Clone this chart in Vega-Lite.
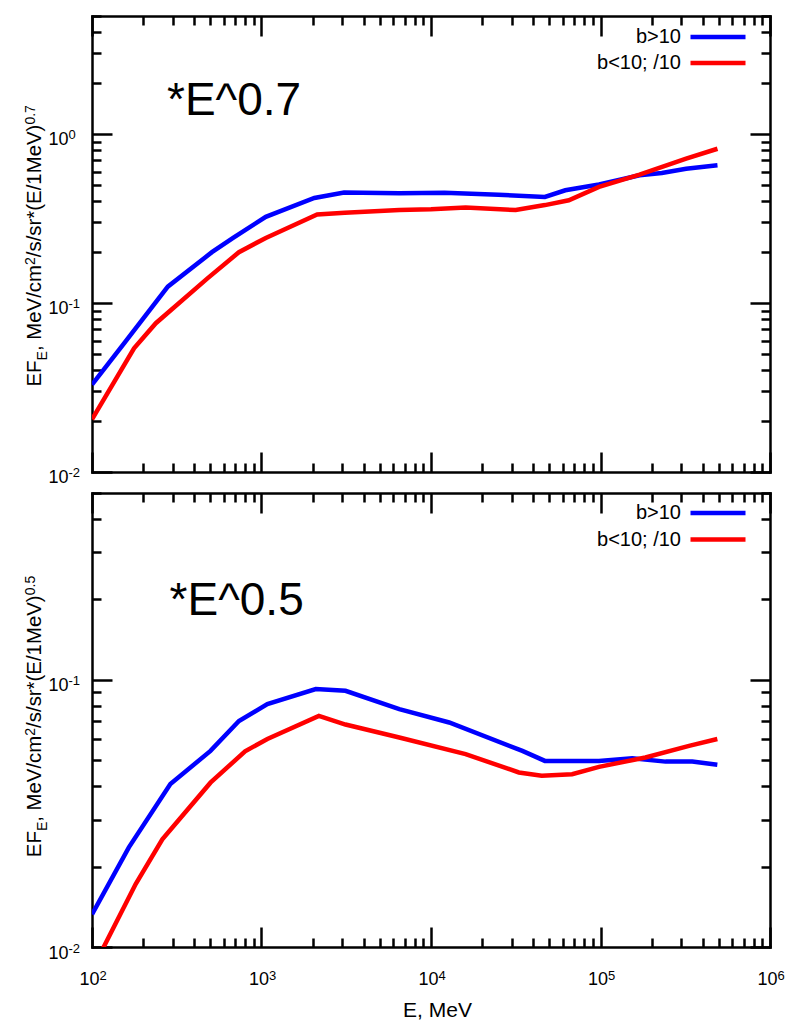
{
  "$schema": "https://vega.github.io/schema/vega-lite/v6.json",
  "autosize": {"type": "pad"},
  "padding": {"left": 22, "top": 12, "right": 20, "bottom": 5},
  "background": "white",
  "config": {
    "font": "Liberation Sans",
    "view": {"stroke": null},
    "axis": {
      "domainColor": "black", "domainWidth": 2.5, "domainCap": "square",
      "tickColor": "black", "tickWidth": 2.5, "grid": false,
      "labelColor": "black", "titleColor": "black",
      "labelFont": "Liberation Sans", "titleFont": "Liberation Sans",
      "titleFontWeight": "normal", "labelFontSize": 18, "titleFontSize": 20.4,
      "labelFlush": false, "labelOverlap": false
    },
    "legend": {"labelFont": "Liberation Sans", "labelColor": "black"}
  },
  "datasets": {
    "top": [
      {"E": 100, "v": 0.0329, "series": "b>10"},
      {"E": 155, "v": 0.058, "series": "b>10"},
      {"E": 280, "v": 0.125, "series": "b>10"},
      {"E": 510, "v": 0.2, "series": "b>10"},
      {"E": 680, "v": 0.243, "series": "b>10"},
      {"E": 1060, "v": 0.324, "series": "b>10"},
      {"E": 2050, "v": 0.419, "series": "b>10"},
      {"E": 3070, "v": 0.451, "series": "b>10"},
      {"E": 6500, "v": 0.446, "series": "b>10"},
      {"E": 12000, "v": 0.449, "series": "b>10"},
      {"E": 25000, "v": 0.437, "series": "b>10"},
      {"E": 47000, "v": 0.425, "series": "b>10"},
      {"E": 62000, "v": 0.465, "series": "b>10"},
      {"E": 98000, "v": 0.503, "series": "b>10"},
      {"E": 170000, "v": 0.571, "series": "b>10"},
      {"E": 230000, "v": 0.589, "series": "b>10"},
      {"E": 320000, "v": 0.624, "series": "b>10"},
      {"E": 490000, "v": 0.654, "series": "b>10"},
      {"E": 100, "v": 0.0205, "series": "b<10; /10"},
      {"E": 177, "v": 0.054, "series": "b<10; /10"},
      {"E": 238, "v": 0.076, "series": "b<10; /10"},
      {"E": 480, "v": 0.14, "series": "b<10; /10"},
      {"E": 736, "v": 0.2, "series": "b<10; /10"},
      {"E": 1060, "v": 0.243, "series": "b<10; /10"},
      {"E": 2130, "v": 0.334, "series": "b<10; /10"},
      {"E": 3100, "v": 0.342, "series": "b<10; /10"},
      {"E": 6500, "v": 0.355, "series": "b<10; /10"},
      {"E": 10000, "v": 0.359, "series": "b<10; /10"},
      {"E": 16000, "v": 0.368, "series": "b<10; /10"},
      {"E": 31600, "v": 0.355, "series": "b<10; /10"},
      {"E": 47000, "v": 0.38, "series": "b<10; /10"},
      {"E": 65000, "v": 0.406, "series": "b<10; /10"},
      {"E": 98000, "v": 0.487, "series": "b<10; /10"},
      {"E": 170000, "v": 0.575, "series": "b<10; /10"},
      {"E": 320000, "v": 0.715, "series": "b<10; /10"},
      {"E": 490000, "v": 0.819, "series": "b<10; /10"}
    ],
    "bottom": [
      {"E": 100, "v": 0.01325, "series": "b>10"},
      {"E": 165, "v": 0.0236, "series": "b>10"},
      {"E": 290, "v": 0.0407, "series": "b>10"},
      {"E": 500, "v": 0.0542, "series": "b>10"},
      {"E": 736, "v": 0.0701, "series": "b>10"},
      {"E": 1083, "v": 0.0811, "series": "b>10"},
      {"E": 2090, "v": 0.0923, "series": "b>10"},
      {"E": 3130, "v": 0.0909, "series": "b>10"},
      {"E": 6500, "v": 0.0776, "series": "b>10"},
      {"E": 12800, "v": 0.0692, "series": "b>10"},
      {"E": 34600, "v": 0.0542, "series": "b>10"},
      {"E": 47000, "v": 0.0497, "series": "b>10"},
      {"E": 98000, "v": 0.0497, "series": "b>10"},
      {"E": 154000, "v": 0.0509, "series": "b>10"},
      {"E": 242000, "v": 0.0494, "series": "b>10"},
      {"E": 348000, "v": 0.0494, "series": "b>10"},
      {"E": 489000, "v": 0.0481, "series": "b>10"},
      {"E": 100, "v": 0.0082, "series": "b<10; /10"},
      {"E": 181, "v": 0.0172, "series": "b<10; /10"},
      {"E": 260, "v": 0.0253, "series": "b<10; /10"},
      {"E": 500, "v": 0.0412, "series": "b<10; /10"},
      {"E": 800, "v": 0.054, "series": "b<10; /10"},
      {"E": 1083, "v": 0.06, "series": "b<10; /10"},
      {"E": 2180, "v": 0.0733, "series": "b<10; /10"},
      {"E": 3130, "v": 0.068, "series": "b<10; /10"},
      {"E": 6500, "v": 0.0608, "series": "b<10; /10"},
      {"E": 16000, "v": 0.0527, "series": "b<10; /10"},
      {"E": 33000, "v": 0.045, "series": "b<10; /10"},
      {"E": 45000, "v": 0.0437, "series": "b<10; /10"},
      {"E": 68000, "v": 0.0443, "series": "b<10; /10"},
      {"E": 98000, "v": 0.0472, "series": "b<10; /10"},
      {"E": 184000, "v": 0.0512, "series": "b<10; /10"},
      {"E": 333000, "v": 0.0566, "series": "b<10; /10"},
      {"E": 489000, "v": 0.06, "series": "b<10; /10"}
    ],
    "noteTop": [{"E": 277, "v": 1.29, "label": "*E^0.7"}],
    "noteBottom": [{"E": 287, "v": 0.174, "label": "*E^0.5"}]
  },
  "spacing": 21,
  "bounds": "flush",
  "resolve": {"scale": {"color": "independent"}, "legend": {"color": "independent"}},
  "vconcat": [
    {
      "width": 678, "height": 456,
      "resolve": {"axis": {"x": "independent", "y": "independent"}},
      "layer": [
        {
          "data": {"name": "top"},
          "mark": {"type": "line", "strokeWidth": 4.5, "clip": true},
          "encoding": {
            "x": {"field": "E", "type": "quantitative",
              "scale": {"type": "log", "domain": [100, 1000000], "nice": false},
              "axis": {"orient": "bottom", "title": null, "labels": false,
                "values": [100,200,300,400,500,600,700,800,900,1000,2000,3000,4000,5000,6000,7000,8000,9000,10000,20000,30000,40000,50000,60000,70000,80000,90000,100000,200000,300000,400000,500000,600000,700000,800000,900000,1000000],
                "tickSize": {"condition": {"test": "datum.value==100||datum.value==1000||datum.value==10000||datum.value==100000||datum.value==1000000", "value": -20}, "value": -9}}},
            "y": {"field": "v", "type": "quantitative",
              "scale": {"type": "log", "domain": [0.01, 5], "nice": false},
              "axis": {"orient": "left", "title": "EF",
                "titleX": -51.3, "titleY": 370, "titleBaseline": "alphabetic", "titleAlign": "left", "titleAngle": 270,
                "values": [0.01,0.02,0.03,0.04,0.05,0.06,0.07,0.08,0.09,0.1,0.2,0.3,0.4,0.5,0.6,0.7,0.8,0.9,1,2,3,4,5],
                "labelExpr": "datum.value==0.01||datum.value==0.1||datum.value==1?'10':''",
                "labelPadding": 44, "labelOffset": 5,
                "tickSize": {"condition": {"test": "datum.value==0.01||datum.value==0.1||datum.value==1", "value": -20}, "value": -9}}},
            "color": {"field": "series", "type": "nominal",
              "scale": {"domain": ["b>10", "b<10; /10"], "range": ["#0000ff", "#ff0000"]},
              "legend": {"orient": "none", "legendX": 616, "legendY": 11, "title": null,
                "symbolType": "M-5,0H5", "symbolSize": 121, "symbolStrokeWidth": 4.5,
                "labelFontSize": 20, "labelAlign": "right", "labelOffset": -47,
                "rowPadding": 6, "padding": 0, "labelLimit": 0}}
          }
        },
        {
          "data": {"name": "top"},
          "mark": {"type": "line", "strokeOpacity": 0},
          "encoding": {
            "detail": {"field": "series"},
            "x": {"field": "E", "type": "quantitative",
              "scale": {"type": "log", "domain": [100, 1000000], "nice": false},
              "axis": {"orient": "top", "title": null, "labels": false,
                "values": [100,200,300,400,500,600,700,800,900,1000,2000,3000,4000,5000,6000,7000,8000,9000,10000,20000,30000,40000,50000,60000,70000,80000,90000,100000,200000,300000,400000,500000,600000,700000,800000,900000,1000000],
                "tickSize": {"condition": {"test": "datum.value==100||datum.value==1000||datum.value==10000||datum.value==100000||datum.value==1000000", "value": -20}, "value": -9}}},
            "y": {"field": "v", "type": "quantitative",
              "scale": {"type": "log", "domain": [0.01, 5], "nice": false},
              "axis": {"orient": "right", "title": null, "labels": false,
                "values": [0.01,0.02,0.03,0.04,0.05,0.06,0.07,0.08,0.09,0.1,0.2,0.3,0.4,0.5,0.6,0.7,0.8,0.9,1,2,3,4,5],
                "tickSize": {"condition": {"test": "datum.value==0.01||datum.value==0.1||datum.value==1", "value": -20}, "value": -9}}}
          }
        },
        {
          "data": {"name": "top"},
          "mark": {"type": "line", "strokeOpacity": 0},
          "encoding": {
            "detail": {"field": "series"},
            "x": {"field": "E", "type": "quantitative", "scale": {"type": "log", "domain": [100, 1000000], "nice": false}, "axis": null},
            "y": {"field": "v", "type": "quantitative",
              "scale": {"type": "log", "domain": [0.01, 5], "nice": false},
              "axis": {"orient": "left", "ticks": false, "domain": false,
                "values": [0.01, 0.1, 1],
                "labelExpr": "datum.value==0.01?'-2':datum.value==0.1?'-1':'0'",
                "labelFontSize": 13, "labelAlign": "left", "labelBaseline": "middle", "labelPadding": 24, "labelOffset": 0,
                "title": "E", "titleFontSize": 14, "titleX": -46, "titleY": 343.9, "titleBaseline": "alphabetic", "titleAlign": "left", "titleAngle": 270}}
          }
        },
        {
          "data": {"name": "top"},
          "mark": {"type": "line", "strokeOpacity": 0},
          "encoding": {
            "detail": {"field": "series"},
            "x": {"field": "E", "type": "quantitative", "scale": {"type": "log", "domain": [100, 1000000], "nice": false}, "axis": null},
            "y": {"field": "v", "type": "quantitative",
              "scale": {"type": "log", "domain": [0.01, 5], "nice": false},
              "axis": {"orient": "left", "ticks": false, "domain": false, "labels": false,
                "title": ", MeV/cm", "titleX": -51.3, "titleY": 334.6, "titleBaseline": "alphabetic", "titleAlign": "left", "titleAngle": 270}}
          }
        },
        {
          "data": {"name": "top"},
          "mark": {"type": "line", "strokeOpacity": 0},
          "encoding": {
            "detail": {"field": "series"},
            "x": {"field": "E", "type": "quantitative", "scale": {"type": "log", "domain": [100, 1000000], "nice": false}, "axis": null},
            "y": {"field": "v", "type": "quantitative",
              "scale": {"type": "log", "domain": [0.01, 5], "nice": false},
              "axis": {"orient": "left", "ticks": false, "domain": false, "labels": false,
                "title": "2", "titleFontSize": 14, "titleX": -58, "titleY": 248.5, "titleBaseline": "alphabetic", "titleAlign": "left", "titleAngle": 270}}
          }
        },
        {
          "data": {"name": "top"},
          "mark": {"type": "line", "strokeOpacity": 0},
          "encoding": {
            "detail": {"field": "series"},
            "x": {"field": "E", "type": "quantitative", "scale": {"type": "log", "domain": [100, 1000000], "nice": false}, "axis": null},
            "y": {"field": "v", "type": "quantitative",
              "scale": {"type": "log", "domain": [0.01, 5], "nice": false},
              "axis": {"orient": "left", "ticks": false, "domain": false, "labels": false,
                "title": "/s/sr*(E/1MeV)", "titleX": -51.3, "titleY": 240.7, "titleBaseline": "alphabetic", "titleAlign": "left", "titleAngle": 270}}
          }
        },
        {
          "data": {"name": "top"},
          "mark": {"type": "line", "strokeOpacity": 0},
          "encoding": {
            "detail": {"field": "series"},
            "x": {"field": "E", "type": "quantitative", "scale": {"type": "log", "domain": [100, 1000000], "nice": false}, "axis": null},
            "y": {"field": "v", "type": "quantitative",
              "scale": {"type": "log", "domain": [0.01, 5], "nice": false},
              "axis": {"orient": "left", "ticks": false, "domain": false, "labels": false,
                "title": "0.7", "titleFontSize": 14, "titleX": -58, "titleY": 108.1, "titleBaseline": "alphabetic", "titleAlign": "left", "titleAngle": 270}}
          }
        },
        {
          "data": {"name": "noteTop"},
          "mark": {"type": "text", "align": "left", "baseline": "alphabetic", "fontSize": 46, "font": "Liberation Sans", "color": "black"},
          "encoding": {
            "x": {"field": "E", "type": "quantitative", "scale": {"type": "log", "domain": [100, 1000000], "nice": false}, "axis": null},
            "y": {"field": "v", "type": "quantitative", "scale": {"type": "log", "domain": [0.01, 5], "nice": false}, "axis": null},
            "text": {"field": "label"}
          }
        }
      ]
    },
    {
      "width": 678, "height": 454,
      "resolve": {"axis": {"x": "independent", "y": "independent"}},
      "layer": [
        {
          "data": {"name": "bottom"},
          "mark": {"type": "line", "strokeWidth": 4.5, "clip": true},
          "encoding": {
            "x": {"field": "E", "type": "quantitative",
              "scale": {"type": "log", "domain": [100, 1000000], "nice": false},
              "axis": {"orient": "bottom", "title": "E, MeV", "titleFontSize": 21,
                "titleX": 345, "titleY": 69, "titleBaseline": "alphabetic",
                "values": [100,200,300,400,500,600,700,800,900,1000,2000,3000,4000,5000,6000,7000,8000,9000,10000,20000,30000,40000,50000,60000,70000,80000,90000,100000,200000,300000,400000,500000,600000,700000,800000,900000,1000000],
                "labelExpr": "datum.value==100||datum.value==1000||datum.value==10000||datum.value==100000||datum.value==1000000?'10':''",
                "labelBaseline": "alphabetic", "labelAlign": "right", "labelPadding": 57, "labelOffset": 7,
                "tickSize": {"condition": {"test": "datum.value==100||datum.value==1000||datum.value==10000||datum.value==100000||datum.value==1000000", "value": -20}, "value": -9}}},
            "y": {"field": "v", "type": "quantitative",
              "scale": {"type": "log", "domain": [0.01, 0.5], "nice": false},
              "axis": {"orient": "left", "title": "EF",
                "titleX": -51.3, "titleY": 363.7, "titleBaseline": "alphabetic", "titleAlign": "left", "titleAngle": 270,
                "values": [0.01,0.02,0.03,0.04,0.05,0.06,0.07,0.08,0.09,0.1,0.2,0.3,0.4,0.5],
                "labelExpr": "datum.value==0.01||datum.value==0.1?'10':''",
                "labelPadding": 44, "labelOffset": 6,
                "tickSize": {"condition": {"test": "datum.value==0.01||datum.value==0.1", "value": -20}, "value": -9}}},
            "color": {"field": "series", "type": "nominal",
              "scale": {"domain": ["b>10", "b<10; /10"], "range": ["#0000ff", "#ff0000"]},
              "legend": {"orient": "none", "legendX": 616, "legendY": 10, "title": null,
                "symbolType": "M-5,0H5", "symbolSize": 121, "symbolStrokeWidth": 4.5,
                "labelFontSize": 20, "labelAlign": "right", "labelOffset": -47,
                "rowPadding": 6.5, "padding": 0, "labelLimit": 0}}
          }
        },
        {
          "data": {"name": "bottom"},
          "mark": {"type": "line", "strokeOpacity": 0},
          "encoding": {
            "detail": {"field": "series"},
            "x": {"field": "E", "type": "quantitative",
              "scale": {"type": "log", "domain": [100, 1000000], "nice": false},
              "axis": {"orient": "top", "title": null, "labels": false,
                "values": [100,200,300,400,500,600,700,800,900,1000,2000,3000,4000,5000,6000,7000,8000,9000,10000,20000,30000,40000,50000,60000,70000,80000,90000,100000,200000,300000,400000,500000,600000,700000,800000,900000,1000000],
                "tickSize": {"condition": {"test": "datum.value==100||datum.value==1000||datum.value==10000||datum.value==100000||datum.value==1000000", "value": -20}, "value": -9}}},
            "y": {"field": "v", "type": "quantitative",
              "scale": {"type": "log", "domain": [0.01, 0.5], "nice": false},
              "axis": {"orient": "right", "title": null, "labels": false,
                "values": [0.01,0.02,0.03,0.04,0.05,0.06,0.07,0.08,0.09,0.1,0.2,0.3,0.4,0.5],
                "tickSize": {"condition": {"test": "datum.value==0.01||datum.value==0.1", "value": -20}, "value": -9}}}
          }
        },
        {
          "data": {"name": "bottom"},
          "mark": {"type": "line", "strokeOpacity": 0},
          "encoding": {
            "detail": {"field": "series"},
            "x": {"field": "E", "type": "quantitative",
              "scale": {"type": "log", "domain": [100, 1000000], "nice": false},
              "axis": {"orient": "bottom", "ticks": false, "domain": false, "title": null,
                "values": [100, 1000, 10000, 100000, 1000000],
                "labelExpr": "datum.value==100?'2':datum.value==1000?'3':datum.value==10000?'4':datum.value==100000?'5':'6'",
                "labelFontSize": 13, "labelAlign": "left", "labelBaseline": "alphabetic", "labelPadding": 32, "labelOffset": 7}},
            "y": {"field": "v", "type": "quantitative",
              "scale": {"type": "log", "domain": [0.01, 0.5], "nice": false},
              "axis": {"orient": "left", "ticks": false, "domain": false,
                "values": [0.01, 0.1],
                "labelExpr": "datum.value==0.01?'-2':'-1'",
                "labelFontSize": 13, "labelAlign": "left", "labelBaseline": "middle", "labelPadding": 24, "labelOffset": 1,
                "title": "E", "titleFontSize": 14, "titleX": -46, "titleY": 337.6, "titleBaseline": "alphabetic", "titleAlign": "left", "titleAngle": 270}}
          }
        },
        {
          "data": {"name": "bottom"},
          "mark": {"type": "line", "strokeOpacity": 0},
          "encoding": {
            "detail": {"field": "series"},
            "x": {"field": "E", "type": "quantitative", "scale": {"type": "log", "domain": [100, 1000000], "nice": false}, "axis": null},
            "y": {"field": "v", "type": "quantitative",
              "scale": {"type": "log", "domain": [0.01, 0.5], "nice": false},
              "axis": {"orient": "left", "ticks": false, "domain": false, "labels": false,
                "title": ", MeV/cm", "titleX": -51.3, "titleY": 328.3, "titleBaseline": "alphabetic", "titleAlign": "left", "titleAngle": 270}}
          }
        },
        {
          "data": {"name": "bottom"},
          "mark": {"type": "line", "strokeOpacity": 0},
          "encoding": {
            "detail": {"field": "series"},
            "x": {"field": "E", "type": "quantitative", "scale": {"type": "log", "domain": [100, 1000000], "nice": false}, "axis": null},
            "y": {"field": "v", "type": "quantitative",
              "scale": {"type": "log", "domain": [0.01, 0.5], "nice": false},
              "axis": {"orient": "left", "ticks": false, "domain": false, "labels": false,
                "title": "2", "titleFontSize": 14, "titleX": -58, "titleY": 242.2, "titleBaseline": "alphabetic", "titleAlign": "left", "titleAngle": 270}}
          }
        },
        {
          "data": {"name": "bottom"},
          "mark": {"type": "line", "strokeOpacity": 0},
          "encoding": {
            "detail": {"field": "series"},
            "x": {"field": "E", "type": "quantitative", "scale": {"type": "log", "domain": [100, 1000000], "nice": false}, "axis": null},
            "y": {"field": "v", "type": "quantitative",
              "scale": {"type": "log", "domain": [0.01, 0.5], "nice": false},
              "axis": {"orient": "left", "ticks": false, "domain": false, "labels": false,
                "title": "/s/sr*(E/1MeV)", "titleX": -51.3, "titleY": 234.4, "titleBaseline": "alphabetic", "titleAlign": "left", "titleAngle": 270}}
          }
        },
        {
          "data": {"name": "bottom"},
          "mark": {"type": "line", "strokeOpacity": 0},
          "encoding": {
            "detail": {"field": "series"},
            "x": {"field": "E", "type": "quantitative", "scale": {"type": "log", "domain": [100, 1000000], "nice": false}, "axis": null},
            "y": {"field": "v", "type": "quantitative",
              "scale": {"type": "log", "domain": [0.01, 0.5], "nice": false},
              "axis": {"orient": "left", "ticks": false, "domain": false, "labels": false,
                "title": "0.5", "titleFontSize": 14, "titleX": -58, "titleY": 101.8, "titleBaseline": "alphabetic", "titleAlign": "left", "titleAngle": 270}}
          }
        },
        {
          "data": {"name": "noteBottom"},
          "mark": {"type": "text", "align": "left", "baseline": "alphabetic", "fontSize": 46, "font": "Liberation Sans", "color": "black"},
          "encoding": {
            "x": {"field": "E", "type": "quantitative", "scale": {"type": "log", "domain": [100, 1000000], "nice": false}, "axis": null},
            "y": {"field": "v", "type": "quantitative", "scale": {"type": "log", "domain": [0.01, 0.5], "nice": false}, "axis": null},
            "text": {"field": "label"}
          }
        }
      ]
    }
  ]
}
